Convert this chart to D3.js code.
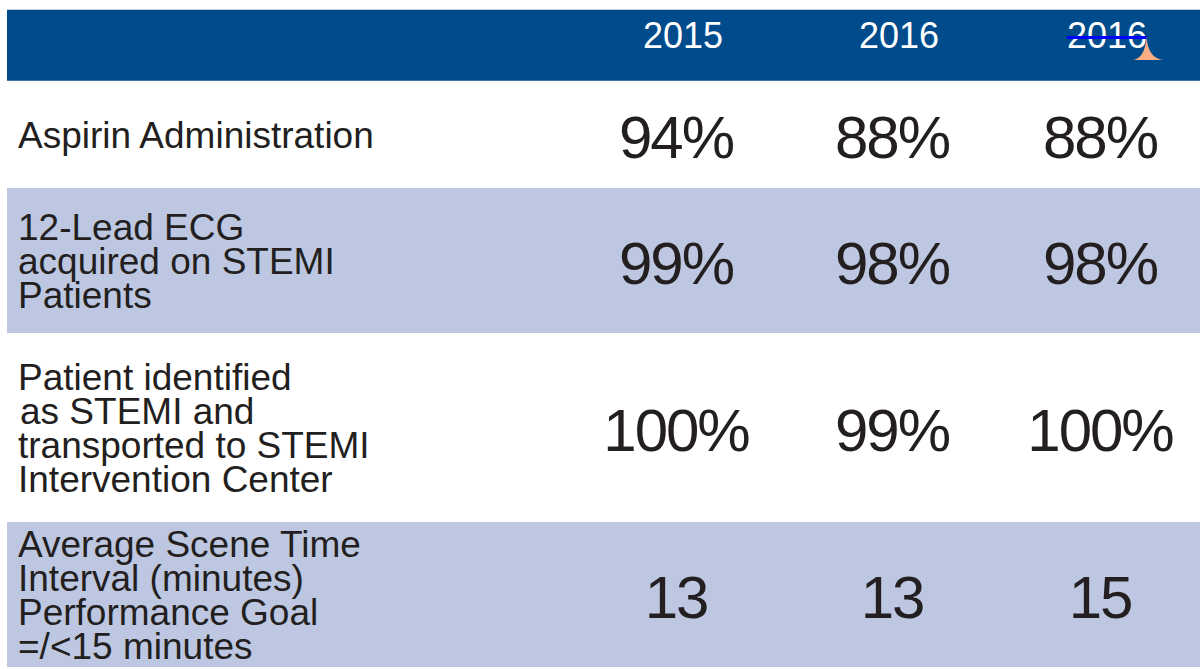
<!DOCTYPE html>
<html>
<head>
<meta charset="utf-8">
<script src="https://cdn.jsdelivr.net/npm/d3@7"></script>
<style>
  html, body { margin: 0; padding: 0; background: #fff; }
  svg { display: block; }
</style>
</head>
<body>
<svg id="chart" width="1200" height="669"></svg>
<script>
// ---- data ----
const years = ["2015", "2016", "2016"];
const categories = [
  ["Aspirin Administration"],
  ["12-Lead ECG", "acquired on STEMI", "Patients"],
  ["Patient identified", "as STEMI and", "transported to STEMI", "Intervention Center"],
  ["Average Scene Time", "Interval (minutes)", "Performance Goal", "=/<15 minutes"]
];
const values2015 = [94, 99, 100, 13];
const values2016 = [88, 98, 99, 13];
const values2016b = [88, 98, 100, 15];
const units = ["%", "%", "%", ""];

// ---- layout ----
const W = 1200, H = 669;
const left = 7;
const headerTop = 10, headerBottom = 81;
const rowEdges = [81, 188, 333, 522, 667];
const colors = { header: "#004b8c", band: "#bdc7e1", text: "#231f20" };
const font = "'Liberation Sans', Arial, Helvetica, sans-serif";

const svg = d3.select("#chart");

const rowScale = d3.scaleOrdinal().domain(d3.range(categories.length)).range(rowEdges.slice(0, -1));
const rowHeight = i => rowEdges[i + 1] - rowEdges[i];
const colScale = d3.scaleOrdinal().domain(d3.range(years.length)).range([677, 893, 1101]);

// header band
svg.append("rect")
  .attr("x", left).attr("y", headerTop)
  .attr("width", W - left).attr("height", headerBottom - headerTop)
  .attr("fill", colors.header);
svg.append("line")
  .attr("x1", left).attr("x2", W).attr("y1", headerTop - 0.5).attr("y2", headerTop - 0.5)
  .attr("stroke", "#c9d0dc").attr("stroke-width", 1);
svg.append("line")
  .attr("x1", left).attr("x2", W).attr("y1", headerBottom - 0.5).attr("y2", headerBottom - 0.5)
  .attr("stroke", "#3f76ad").attr("stroke-width", 1);

// header labels
svg.selectAll("text.year").data(years).join("text")
  .attr("class", "year")
  .attr("x", (d, i) => colScale(i) + 6)
  .attr("y", 48)
  .attr("text-anchor", "middle")
  .attr("font-family", font)
  .attr("font-size", 36)
  .attr("fill", "#ffffff")
  .text(d => d);

// strike-through + marker on third header
const x3 = colScale(2) + 6;
svg.append("line")
  .attr("x1", x3 - 40).attr("x2", x3 + 40)
  .attr("y1", 37.5).attr("y2", 37.5)
  .attr("stroke", "#0000ff").attr("stroke-width", 3);
svg.append("path")
  .attr("d", `M${x3 + 26},60 Q${x3 + 38},58 ${x3 + 39.5},37 Q${x3 + 41},58 ${x3 + 56},60 Z`)
  .attr("fill", "#f9ad83");

// row bands
const rows = svg.selectAll("g.row").data(categories).join("g")
  .attr("class", "row")
  .attr("transform", (d, i) => `translate(0,${rowScale(i)})`);

rows.append("rect")
  .attr("x", left).attr("y", 0)
  .attr("width", W - left)
  .attr("height", (d, i) => rowHeight(i))
  .attr("fill", (d, i) => i % 2 === 1 ? colors.band : "#ffffff");

// category labels
const lineGap = 34;
rows.append("text")
  .attr("font-family", font)
  .attr("font-size", 37)
  .attr("fill", colors.text)
  .each(function(lines, i) {
    const h = rowHeight(i);
    const firstBaseline = h / 2 + 13 - (lines.length - 1) * lineGap / 2;
    d3.select(this).selectAll("tspan").data(lines).join("tspan")
      .attr("x", (l, j) => (i === 2 && j === 1) ? 20 : 18)
      .attr("y", (l, j) => firstBaseline + j * lineGap)
      .text(l => l);
  });

// values
const series = [values2015, values2016, values2016b];
series.forEach((vals, c) => {
  rows.append("text")
    .attr("x", colScale(c) - 1)
    .attr("y", (d, i) => rowHeight(i) / 2 + 23)
    .attr("text-anchor", "middle")
    .attr("font-family", font)
    .attr("font-size", 60)
    .attr("letter-spacing", -2)
    .attr("fill", colors.text)
    .text((d, i) => vals[i] + units[i]);
});
</script>
</body>
</html>
